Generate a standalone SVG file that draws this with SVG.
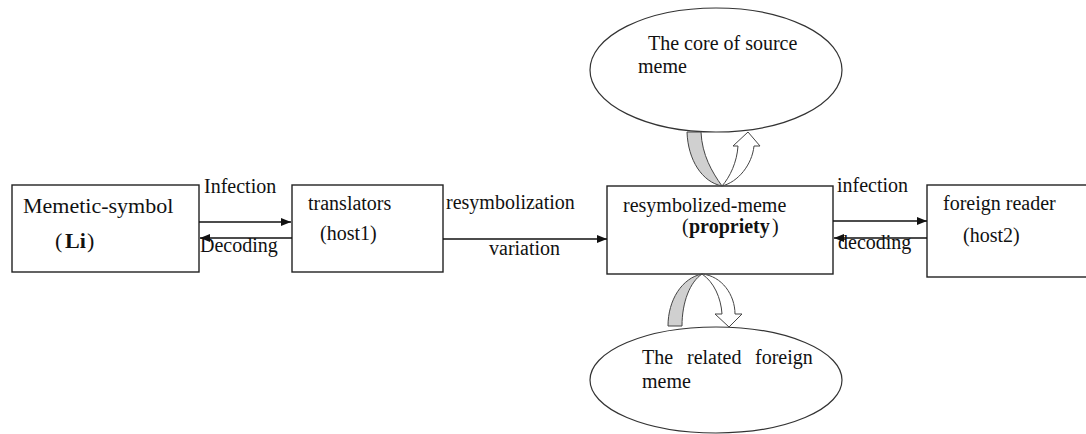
<svg xmlns="http://www.w3.org/2000/svg" width="1086" height="434" viewBox="0 0 1086 434">
<style>
.t{font-family:"Liberation Serif","Times New Roman",serif;font-size:20px;fill:#111}
.b{font-weight:bold}
.box{fill:#fff;stroke:#222;stroke-width:1.4}
.ell{fill:#fff;stroke:#333;stroke-width:1.2}
.ln{stroke:#111;stroke-width:1.5;fill:none}
.grey{fill:#d0d0d0;stroke:#444;stroke-width:1}
.wht{fill:#fff;stroke:#444;stroke-width:1}
</style>
<defs>
<marker id="ah" viewBox="0 0 10 8" refX="10" refY="4" markerWidth="10" markerHeight="8" markerUnits="userSpaceOnUse" orient="auto">
<path d="M0,0 L10,4 L0,8 Z" fill="#111"/>
</marker>
</defs>
<rect width="1086" height="434" fill="#fff"/>

<g id="core-source-meme">
<ellipse class="ell" cx="716" cy="70" rx="126" ry="62"/>
<text class="t" x="648" y="50">The core of source</text>
<text class="t" x="638" y="73">meme</text>
</g>

<g id="related-foreign-meme">
<ellipse class="ell" cx="716" cy="380" rx="126" ry="53"/>
<text class="t" y="364"><tspan x="642">The</tspan><tspan x="687">related</tspan><tspan x="755">foreign</tspan></text>
<text class="t" x="642" y="388">meme</text>
</g>

<g id="memetic-symbol">
<rect class="box" x="12" y="185" width="187" height="87"/>
<text class="t" x="23" y="213" style="font-size:22px">Memetic-symbol</text>
<text class="t" y="248" style="font-size:22px"><tspan x="55">(</tspan><tspan x="65" class="b">Li</tspan><tspan x="87">)</tspan></text>
</g>

<g id="translators">
<rect class="box" x="292" y="185" width="151" height="87"/>
<text class="t" x="308" y="210">translators</text>
<text class="t" x="320" y="240">(host1)</text>
</g>

<g id="resymbolized-meme">
<rect class="box" x="607" y="186" width="226" height="88"/>
<text class="t" x="623" y="212">resymbolized-meme</text>
<text class="t" y="233"><tspan x="682">(</tspan><tspan x="689" class="b">propriety</tspan><tspan x="772">)</tspan></text>
</g>

<g id="foreign-reader">
<rect class="box" x="927" y="185" width="170" height="92"/>
<text class="t" x="943" y="210">foreign reader</text>
<text class="t" x="963" y="242">(host2)</text>
</g>

<g id="connectors">
<line class="ln" x1="199" y1="222" x2="291" y2="222" marker-end="url(#ah)"/>
<line class="ln" x1="292" y1="238" x2="200" y2="238" marker-end="url(#ah)"/>
<line class="ln" x1="443" y1="239" x2="607" y2="239" marker-end="url(#ah)"/>
<line class="ln" x1="833" y1="221" x2="927" y2="221" marker-end="url(#ah)"/>
<line class="ln" x1="927" y1="238" x2="834" y2="238" marker-end="url(#ah)"/>
<path class="grey" d="M687,132 C688,160 702,182 722,186 C712,172 702,155 701,132 Z"/>
<path class="wht" d="M722,186 C738,182 752,165 754,146 L760,146 L748,132 L733,146 L738,146 C737,162 730,177 722,186 Z"/>
<path class="grey" d="M668,326 C668,300 682,278 702,274 C690,282 682,302 682,326 Z"/>
<path class="wht" d="M702,274 C722,276 735,295 735,314 L742,314 L729,327 L715,314 L722,314 C721,298 714,282 702,274 Z"/>
<text class="t" x="204" y="193">Infection</text>
<text class="t" x="200" y="252">Decoding</text>
<text class="t" x="446" y="209">resymbolization</text>
<text class="t" x="489" y="255">variation</text>
<text class="t" x="837" y="192">infection</text>
<text class="t" x="838" y="249">decoding</text>
</g>
</svg>
